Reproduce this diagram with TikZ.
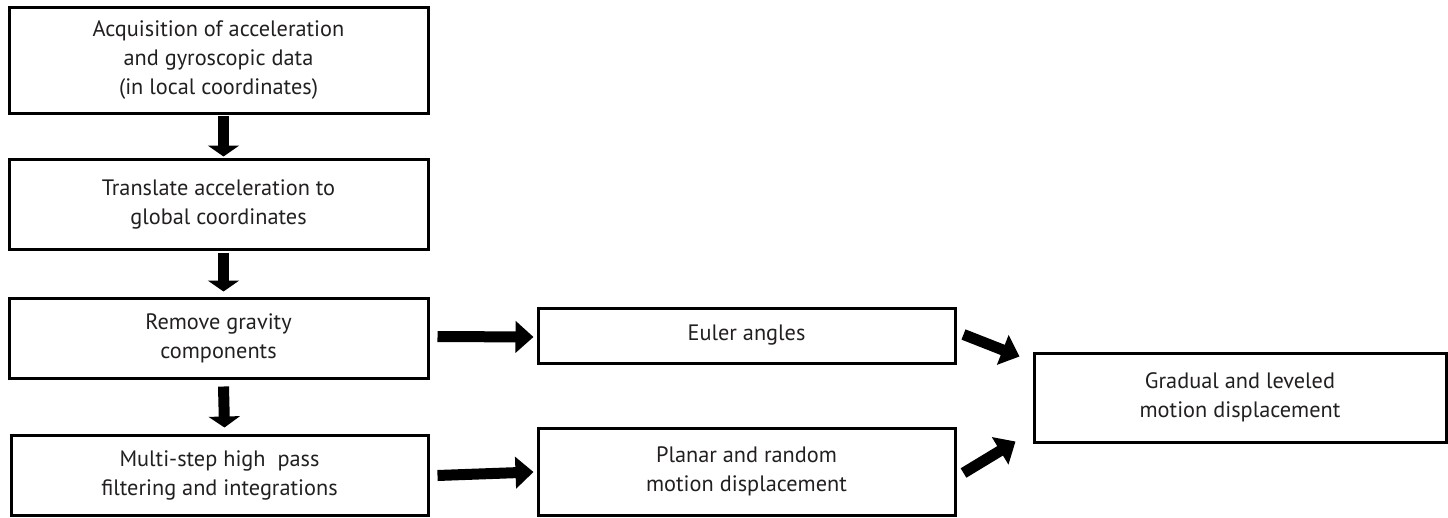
\documentclass[tikz,border=0pt]{standalone}
\usepackage{fontspec}
\setmainfont{PT Sans}
\usetikzlibrary{arrows.meta,calc}
\definecolor{txt}{HTML}{231F20}
\tikzset{
  box/.style={draw=black, line width=3pt, inner sep=0pt, align=center, text=txt,
    font=\fontsize{22.3pt}{29pt}\selectfont},
  blockarrow/.style={line width=11pt, -{Triangle[width=31pt,length=18pt]}},
}
\begin{document}
\begin{tikzpicture}[x=1pt,y=1pt]
\useasboundingbox (0,0) rectangle (1448,-517);
\node[box, minimum width=419pt, minimum height=106pt] (b1) at (218.5,-60) {Acquisition of acceleration\\and gyroscopic data\\(in local coordinates)};
\node[box, minimum width=419pt, minimum height=90pt] (b2) at (218.5,-204) {Translate acceleration to\\global coordinates};
\node[box, minimum width=419pt, minimum height=80pt] (b3) at (218.5,-338) {Remove gravity\\components};
\node[box, minimum width=417pt, minimum height=80pt] (b4) at (219.5,-475) {Multi-step high\ \ pass\\filtering and integrations};
\node[box, minimum width=417pt, minimum height=55pt] (e) at (746.5,-335.5) {Euler angles};
\node[box, minimum width=417pt, minimum height=87pt] (p) at (746.5,-471.5) {Planar and random\\motion displacement};
\node[box, minimum width=412pt, minimum height=89pt] (g) at (1240,-397.5) {Gradual and leveled\\motion displacement};

\draw[blockarrow, -{Triangle[width=31pt,length=11pt]}] ([xshift=5pt,yshift=-1pt]b1.south) -- ([xshift=5pt,yshift=1pt]b2.north);
\draw[blockarrow, -{Triangle[width=31pt,length=11pt]}] ([xshift=5pt,yshift=-2pt]b2.south) -- ([xshift=5pt,yshift=5pt]b3.north);
\draw[blockarrow, -{Triangle[width=31pt,length=11pt]}] ([xshift=5pt,yshift=-7pt]b3.south) -- ([xshift=5pt,yshift=6pt]b4.north);
\draw[blockarrow] ([xshift=8pt,yshift=1.5pt]b3.east) -- ([xshift=-3pt,yshift=-1.5pt]e.west);
\draw[blockarrow] ([xshift=8pt,yshift=-0.5pt]b4.east) -- ([xshift=-3pt,yshift=-0.5pt]p.west);
\draw[blockarrow] ([xshift=7pt,yshift=1pt]e.east) -- ([xshift=-13pt,yshift=-5pt]g.north west);
\draw[blockarrow] ([xshift=7pt,yshift=-1.5pt]p.east) -- ([xshift=-17pt,yshift=2pt]g.south west);
\end{tikzpicture}
\end{document}
